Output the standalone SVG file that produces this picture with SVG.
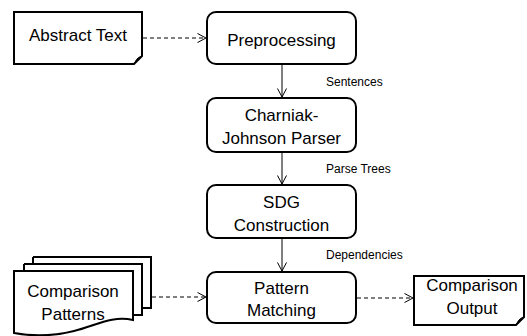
<svg xmlns="http://www.w3.org/2000/svg" width="527" height="336" viewBox="0 0 527 336">
  <style>
    .box { fill: #ffffff; stroke: #000000; stroke-width: 2; }
    .doc { fill: #ffffff; stroke: #000000; stroke-width: 2; stroke-linejoin: miter; }
    .fold { fill: #000000; stroke: #000000; stroke-width: 1; }
    .label { font-family: "Liberation Sans", Arial, sans-serif; font-size: 17px; fill: #000000; text-anchor: middle; }
    .edge-label { font-family: "Liberation Sans", Arial, sans-serif; font-size: 12px; fill: #000000; }
    .flow { stroke: #000000; stroke-width: 1; fill: none; marker-end: url(#open-arrow); }
    .dashed { stroke-dasharray: 4 3; }
  </style>
  <defs>
    <marker id="open-arrow" viewBox="0 0 10 10" refX="9.5" refY="5" markerWidth="10" markerHeight="10" markerUnits="userSpaceOnUse" orient="auto">
      <path d="M1,0.5 L9.5,5 L1,9.5" fill="none" stroke="#000000" stroke-width="1"/>
    </marker>
  </defs>

  <!-- connectors -->
  <g id="connectors">
    <line class="flow dashed" x1="143" y1="38" x2="206" y2="38"/>
    <line class="flow" x1="282" y1="64" x2="282" y2="97"/>
    <line class="flow" x1="282" y1="152" x2="282" y2="184"/>
    <line class="flow" x1="282" y1="238" x2="282" y2="271"/>
    <line class="flow dashed" x1="152" y1="297" x2="206" y2="297"/>
    <line class="flow dashed" x1="357" y1="298" x2="413" y2="298"/>
    <text class="edge-label" x="326" y="86">Sentences</text>
    <text class="edge-label" x="326" y="173">Parse Trees</text>
    <text class="edge-label" x="326" y="259">Dependencies</text>
  </g>

  <!-- input document with a curled corner -->
  <g id="abstract-text">
    <path class="doc" d="M14,12 H142 V56 L134,64 H14 Z"/>
    <path class="fold" d="M134,64 L142,56 Q137.5,57.5 136.5,59.5 Q135.5,61.5 134,64 Z"/>
    <text class="label" x="78" y="41">Abstract Text</text>
  </g>

  <g id="preprocessing">
    <rect class="box" x="207" y="12" width="149" height="52" rx="9"/>
    <text class="label" x="281.5" y="46">Preprocessing</text>
  </g>

  <g id="charniak-johnson-parser">
    <rect class="box" x="207" y="98" width="149" height="54" rx="9"/>
    <text class="label" x="281.5" y="121">Charniak-</text>
    <text class="label" x="281.5" y="144">Johnson Parser</text>
  </g>

  <g id="sdg-construction">
    <rect class="box" x="207" y="185" width="149" height="53" rx="9"/>
    <text class="label" x="281.5" y="208">SDG</text>
    <text class="label" x="281.5" y="231">Construction</text>
  </g>

  <g id="pattern-matching">
    <rect class="box" x="207" y="272" width="149" height="51" rx="9"/>
    <text class="label" x="281.5" y="294">Pattern</text>
    <text class="label" x="281.5" y="316">Matching</text>
  </g>

  <!-- stacked documents -->
  <g id="comparison-patterns">
    <path class="doc" d="M33,257 H151 V308 H140"/>
    <path class="doc" d="M24,264 H142 V315 H132"/>
    <path class="doc" d="M14,271 H133 V320 C112,315 95,326 74,331 C50,337 30,336 14,333 Z"/>
    <line x1="33" y1="257" x2="33" y2="264" stroke="#000000" stroke-width="2"/>
    <line x1="24" y1="264" x2="24" y2="271" stroke="#000000" stroke-width="2"/>
    <text class="label" x="73" y="297">Comparison</text>
    <text class="label" x="73" y="320">Patterns</text>
  </g>

  <g id="comparison-output">
    <path class="doc" d="M414,276 H524 V317 L516,325 H414 Z"/>
    <path class="fold" d="M516,325 L524,317 Q519.5,318.5 518.5,320.5 Q517.5,322.5 516,325 Z"/>
    <text class="label" x="472" y="291">Comparison</text>
    <text class="label" x="472" y="314">Output</text>
  </g>
</svg>
